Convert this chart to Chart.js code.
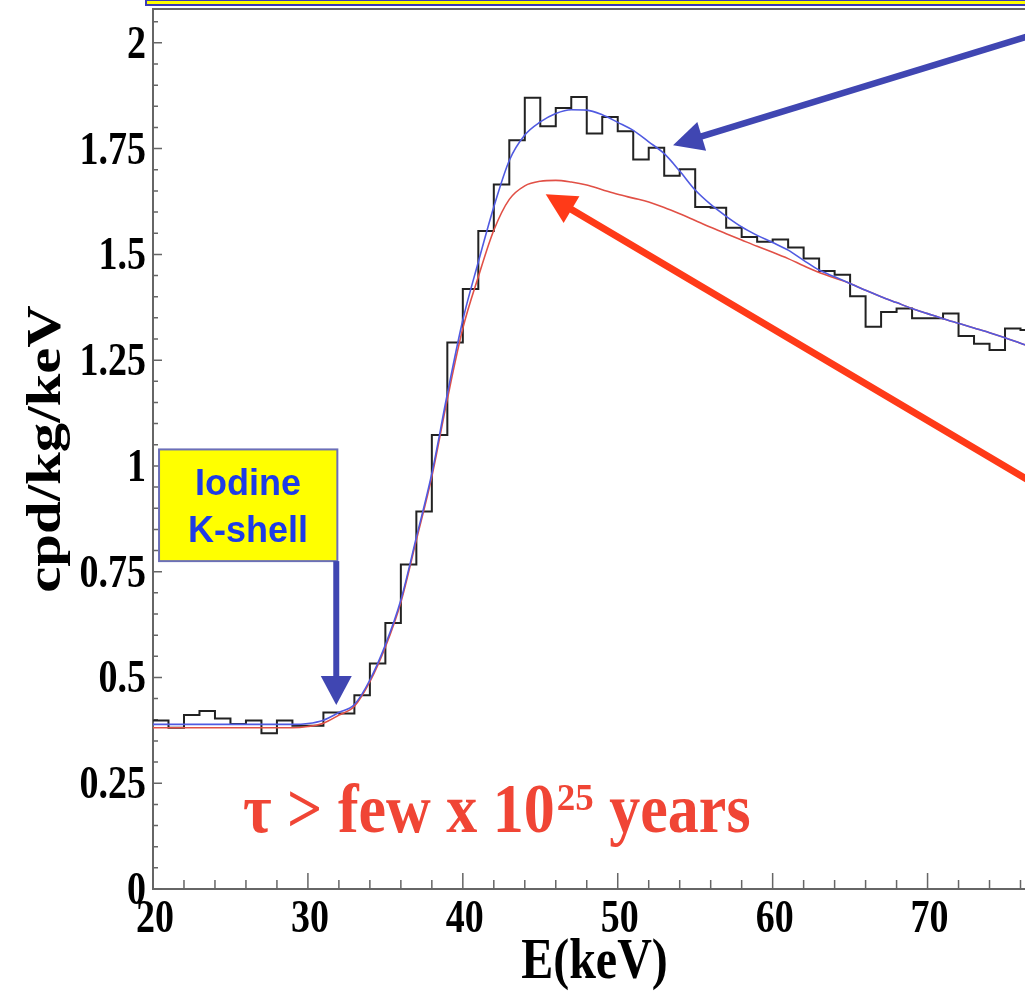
<!DOCTYPE html>
<html>
<head>
<meta charset="utf-8">
<title>Iodine K-shell spectrum</title>
<script src="https://cdn.jsdelivr.net/npm/chart.js@4.4.1/dist/chart.umd.min.js"></script>
<style>
    html, body { margin: 0; padding: 0; background: #fff; overflow: hidden; }
    #wrap { position: absolute; left: 0; top: 0; width: 1045px; height: 992px; }
    #title-bar { position: absolute; left: 145px; top: -1px; width: 920px; height: 3px; background: #ffff00; border: 2px solid #3c3cb4; }
</style>
</head>
<body>
<div id="wrap"><canvas id="spectrum"></canvas></div>
<div id="title-bar"></div>
<script>
// histogram: 1 keV bins starting at 20 keV
const binStart = 20;
const binCounts = [
    0.398, 0.381, 0.411, 0.421, 0.403, 0.390, 0.398, 0.368, 0.398, 0.386,
    0.386, 0.417, 0.415, 0.458, 0.533, 0.629, 0.767, 0.892, 1.073, 1.292,
    1.418, 1.555, 1.665, 1.770, 1.870, 1.803, 1.846, 1.872, 1.786, 1.825,
    1.791, 1.724, 1.752, 1.686, 1.701, 1.612, 1.610, 1.563, 1.541, 1.530,
    1.535, 1.516, 1.490, 1.461, 1.452, 1.401, 1.329, 1.364, 1.372, 1.349,
    1.349, 1.360, 1.307, 1.289, 1.274, 1.325, 1.321
];

// fitted curves, sampled every keV
const fitEnergy = [
    20, 21, 22, 23, 24, 25, 26, 27, 28, 29, 30, 31, 32, 33, 34, 35, 36, 37, 38, 39,
    40, 41, 42, 43, 44, 45, 46, 47, 48, 49, 50, 51, 52, 53, 54, 55, 56, 57, 58, 59,
    60, 61, 62, 63, 64, 65, 66, 67, 68, 69, 70, 71, 72, 73, 74, 75, 76, 77, 78
];
const fitTotal = [
    0.389, 0.389, 0.389, 0.389, 0.389, 0.389, 0.389, 0.389, 0.389, 0.389,
    0.391, 0.399, 0.417, 0.436, 0.494, 0.577, 0.683, 0.831, 0.982, 1.170,
    1.345, 1.482, 1.612, 1.722, 1.782, 1.813, 1.833, 1.842, 1.841, 1.830,
    1.812, 1.793, 1.766, 1.738, 1.697, 1.652, 1.618, 1.590, 1.565, 1.545,
    1.528, 1.510, 1.486, 1.463, 1.447, 1.431, 1.415, 1.400, 1.386, 1.372,
    1.360, 1.348, 1.337, 1.326, 1.315, 1.303, 1.290, 1.278, 1.266
];
const fitNoSignal = [
    0.381, 0.381, 0.381, 0.381, 0.381, 0.381, 0.381, 0.381, 0.381, 0.381,
    0.384, 0.392, 0.411, 0.432, 0.490, 0.572, 0.678, 0.825, 0.975, 1.158,
    1.325, 1.447, 1.557, 1.630, 1.662, 1.673, 1.675, 1.671, 1.664, 1.653,
    1.642, 1.633, 1.624, 1.611, 1.596, 1.580, 1.564, 1.549, 1.534, 1.519,
    1.505, 1.490, 1.473, 1.457, 1.444, 1.431, 1.415, 1.400, 1.386, 1.372,
    1.360, 1.348, 1.337, 1.326, 1.315, 1.303, 1.290, 1.278, 1.266
];

const xMajorTicks = [20, 30, 40, 50, 60, 70];
const yMajorTicks = [0, 0.25, 0.5, 0.75, 1, 1.25, 1.5, 1.75, 2];
const xTitle = 'E(keV)';
const yTitle = 'cpd/kg/keV';

const histPoints = binCounts.map((v, i) => ({x: binStart + i, y: v}));
histPoints.push({x: binStart + binCounts.length, y: binCounts[binCounts.length - 1]});

const STRETCH = 1.2; // the plot picture is taller than it is wide
const AXIS_COLOR = '#666';
const LABEL_FONT = 'bold 38px "Liberation Serif"';
const TITLE_FONT = 'bold 48px "Liberation Serif"';

function isMajor(list, v) {
    return list.some(m => Math.abs(m - v) < 1e-6);
}

function stretchedText(ctx, text, x, y, align, sy = STRETCH) {
    ctx.save();
    ctx.translate(x, y);
    ctx.scale(1, sy);
    ctx.textAlign = align;
    ctx.textBaseline = 'alphabetic';
    ctx.fillText(text, 0, 0);
    ctx.restore();
}

function drawArrow(ctx, x1, y1, x2, y2, shaft, headLen, headW, color) {
    const a = Math.atan2(y2 - y1, x2 - x1);
    const bx = x2 - headLen * Math.cos(a);
    const by = y2 - headLen * Math.sin(a);
    ctx.save();
    ctx.strokeStyle = color;
    ctx.fillStyle = color;
    ctx.lineWidth = shaft;
    ctx.beginPath();
    ctx.moveTo(x1, y1);
    ctx.lineTo(bx + Math.cos(a), by + Math.sin(a));
    ctx.stroke();
    ctx.beginPath();
    ctx.moveTo(x2, y2);
    ctx.lineTo(bx + headW / 2 * Math.sin(a), by - headW / 2 * Math.cos(a));
    ctx.lineTo(bx - headW / 2 * Math.sin(a), by + headW / 2 * Math.cos(a));
    ctx.closePath();
    ctx.fill();
    ctx.restore();
}

// ROOT-like frame: inward ticks, bold serif labels
const rootFrame = {
    id: 'rootFrame',
    beforeDatasetsDraw(chart) {
        const {ctx, chartArea: area, scales: {x, y}} = chart;
        ctx.save();
        ctx.strokeStyle = AXIS_COLOR;
        ctx.lineWidth = 2;
        ctx.strokeRect(area.left, area.top, area.right - area.left, area.bottom - area.top);

        ctx.lineWidth = 1.5;
        ctx.beginPath();
        x.ticks.forEach(t => {
            const px = x.getPixelForValue(t.value);
            const len = isMajor(xMajorTicks, t.value) ? 16 : 9;
            ctx.moveTo(px, area.bottom);
            ctx.lineTo(px, area.bottom - len);
        });
        y.ticks.forEach(t => {
            const py = y.getPixelForValue(t.value);
            const len = isMajor(yMajorTicks, t.value) ? 9 : 5;
            ctx.moveTo(area.left, py);
            ctx.lineTo(area.left + len, py);
        });
        ctx.stroke();

        ctx.fillStyle = '#000';
        ctx.font = LABEL_FONT;
        xMajorTicks.forEach(v => {
            stretchedText(ctx, String(v), x.getPixelForValue(v) + 2, area.bottom + 43, 'center');
        });
        yMajorTicks.forEach(v => {
            stretchedText(ctx, String(v), area.left - 7, y.getPixelForValue(v) + 15, 'right');
        });

        ctx.font = TITLE_FONT;
        stretchedText(ctx, xTitle, (area.left + area.right) / 2, 978, 'center');

        ctx.save();
        ctx.translate(60, (area.top + area.bottom) / 2);
        ctx.rotate(-Math.PI / 2);
        ctx.scale(STRETCH, 1);
        ctx.font = 'bold 49px "Liberation Serif"';
        ctx.textAlign = 'center';
        ctx.textBaseline = 'alphabetic';
        ctx.fillText(yTitle, 0, 0);
        ctx.restore();
        ctx.restore();
    }
};

// slide annotations placed in data units
const notes = {
    id: 'notes',
    afterDatasetsDraw(chart) {
        const {ctx, scales: {x, y}} = chart;
        const X = v => x.getPixelForValue(v);
        const Y = v => y.getPixelForValue(v);

        // yellow label box
        const bl = X(20.39), br = X(31.90), bt = Y(1.039), bb = Y(0.775);
        ctx.save();
        ctx.fillStyle = '#ffff00';
        ctx.fillRect(bl, bt, br - bl, bb - bt);
        ctx.strokeStyle = '#6b6fb8';
        ctx.lineWidth = 2;
        ctx.strokeRect(bl, bt, br - bl, bb - bt);
        ctx.fillStyle = '#1e3ce6';
        ctx.font = 'bold 36px "Liberation Sans"';
        ctx.textAlign = 'center';
        ctx.fillText('Iodine', X(26.13), Y(0.931));
        ctx.fillText('K-shell', X(26.13), Y(0.821));
        ctx.restore();

        drawArrow(ctx, X(31.83), Y(0.775), X(31.83), Y(0.435), 6, 29, 31, 'rgb(64,70,178)');
        drawArrow(ctx, X(77.58), Y(2.028), X(53.57), Y(1.758), 6.5, 30, 30, 'rgb(64,70,178)');
        drawArrow(ctx, X(77.58), Y(0.943), X(45.35), Y(1.642), 7, 30, 31, '#ff3a18');

        // lifetime limit
        ctx.save();
        ctx.fillStyle = '#f04535';
        let tx = X(25.81);
        const ty = Y(0.135);
        const main = '\u03c4 > few x 10';
        ctx.font = 'bold 62px "Liberation Serif"';
        stretchedText(ctx, main, tx, ty, 'left', 1.12);
        tx += ctx.measureText(main).width + 2;
        ctx.font = 'bold 37px "Liberation Serif"';
        stretchedText(ctx, '25', tx, ty - 22, 'left', 1.05);
        tx += ctx.measureText('25').width;
        ctx.font = 'bold 62px "Liberation Serif"';
        stretchedText(ctx, ' years', tx, ty, 'left', 1.12);
        ctx.restore();
    }
};

new Chart(document.getElementById('spectrum'), {
    type: 'line',
    data: {
        datasets: [
            {
                label: 'fit',
                data: fitEnergy.map((e, i) => ({x: e, y: fitTotal[i]})),
                borderColor: 'rgb(80,90,225)',
                borderWidth: 1.6,
                pointRadius: 0,
                cubicInterpolationMode: 'monotone'
            },
            {
                label: 'background only',
                data: fitEnergy.map((e, i) => ({x: e, y: fitNoSignal[i]})),
                borderColor: 'rgb(225,80,70)',
                borderWidth: 1.6,
                pointRadius: 0,
                cubicInterpolationMode: 'monotone'
            },
            {
                label: 'data',
                data: histPoints,
                borderColor: '#222',
                borderWidth: 2,
                pointRadius: 0,
                stepped: 'before'
            }
        ]
    },
    options: {
        responsive: true,
        maintainAspectRatio: false,
        animation: false,
        layout: {padding: {top: 9, right: 9, left: 0, bottom: 0}},
        plugins: {legend: {display: false}, tooltip: {enabled: false}},
        scales: {
            x: {
                type: 'linear',
                min: 20,
                max: 77,
                ticks: {display: false, stepSize: 2, maxTicksLimit: 100, includeBounds: false},
                grid: {display: false},
                border: {display: false},
                afterFit: scale => { scale.height = 103; }
            },
            y: {
                type: 'linear',
                min: 0,
                max: 2.08,
                ticks: {display: false, stepSize: 0.05, maxTicksLimit: 100, includeBounds: false},
                grid: {display: false},
                border: {display: false},
                afterFit: scale => { scale.width = 153; }
            }
        }
    },
    plugins: [rootFrame, notes]
});
</script>
</body>
</html>
